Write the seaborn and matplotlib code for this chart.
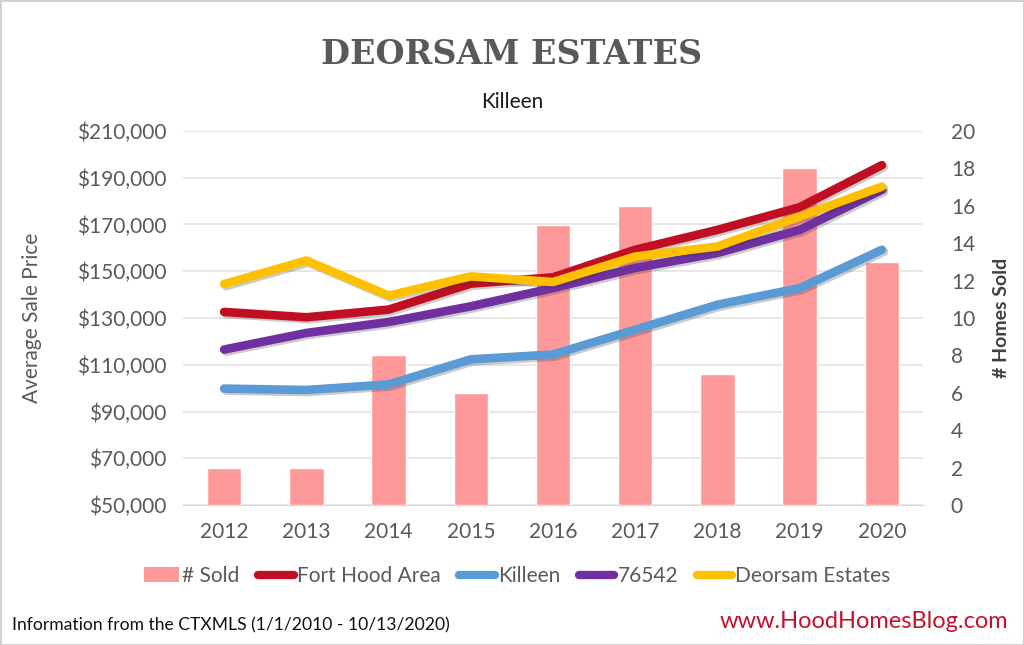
import numpy as np
import pandas as pd
import matplotlib
matplotlib.use("Agg")
import matplotlib.pyplot as plt
import matplotlib.patheffects as pe
from matplotlib.patches import Patch
from matplotlib.lines import Line2D
import seaborn as sns

# data
years = [2012, 2013, 2014, 2015, 2016, 2017, 2018, 2019, 2020]
homes_sold = [2, 2, 8, 6, 15, 16, 7, 18, 13]
fort_hood = [132600, 130300, 133600, 144700, 147400, 159200, 167700, 177400, 195400]
killeen = [99800, 99200, 101600, 112300, 114400, 125000, 135700, 142800, 159200]
zip_76542 = [116500, 123600, 128300, 135000, 142800, 151400, 157800, 167700, 184800]
deorsam = [144500, 154600, 139600, 147800, 145400, 156300, 160600, 173400, 186200]

series_names = ["Fort Hood Area", "Killeen", "76542", "Deorsam Estates"]
series_colors = ["#C00F22", "#5B9BD5", "#7030A0", "#FFC000"]
bar_color = "#FF9999"
gray = "#595959"

price_ticks = list(range(50000, 210001, 20000))
sold_ticks = list(range(0, 21, 2))

df_lines = pd.DataFrame({
    "year": years * 4,
    "price": fort_hood + killeen + zip_76542 + deorsam,
    "area": sum([[n] * len(years) for n in series_names], []),
})
df_bars = pd.DataFrame({"year": years, "sold": homes_sold})

sns.set_style("white")
plt.rcParams["font.family"] = ["Lato", "DejaVu Sans"]

fig = plt.figure(figsize=(10.24, 6.45), dpi=100)
fig.patch.set_edgecolor("#d0d0d0")
fig.patch.set_linewidth(2)

ax = fig.add_axes([183 / 1024, 1 - 505 / 645, 740 / 1024, 374 / 645])
ax2 = ax.twinx()
ax3 = ax.twinx()

# grid + left axis
ax.set_ylim(50000, 210000)
ax.set_yticks(price_ticks)
ax.set_yticklabels(["${:,}".format(v) for v in price_ticks])
ax.grid(axis="y", color="#e3e3e3", linewidth=1.2)
ax.grid(axis="x", visible=False)
ax.set_ylabel("Average Sale Price", fontsize=15, color=gray)
ax.yaxis.set_label_coords(-0.19, 0.5)

# bars on right axis
sns.barplot(data=df_bars, x="year", y="sold", ax=ax2, color=bar_color,
            saturation=1, width=0.42, native_scale=True, zorder=2)
ax2.set_ylim(0, 20)
ax2.set_yticks(sold_ticks)
ax2.set_ylabel("# Homes Sold", fontsize=14, color="#404040", fontweight="bold")
ax2.yaxis.set_label_coords(1.0946, 0.5)
ax2.set_xlabel("")

# lines
sns.lineplot(data=df_lines, x="year", y="price", hue="area", hue_order=series_names,
             palette=series_colors, ax=ax3, linewidth=6.2, legend=False,
             solid_capstyle="round", solid_joinstyle="round",
             path_effects=[pe.SimpleLineShadow(offset=(1.5, -1.5), alpha=0.25, shadow_color="#333333"),
                           pe.Normal()])
ax3.set_ylim(50000, 210000)
ax3.set_yticks([])
ax3.set_ylabel("")
ax3.set_xlabel("")

ax.set_xlim(2011.5, 2020.5)
ax.set_xticks(years)
ax.set_xticklabels([str(y) for y in years])
ax.set_xlabel("")

for a in (ax, ax2, ax3):
    for s in a.spines.values():
        s.set_visible(False)
    a.tick_params(length=0, labelsize=15, colors=gray)
ax.spines["bottom"].set_visible(True)
ax.spines["bottom"].set_color("#d9d9d9")
ax.tick_params(axis="y", pad=12)
ax.tick_params(axis="x", pad=12)
ax2.tick_params(axis="y", pad=20)
ax2.tick_params(axis="x", labelbottom=False)
ax3.tick_params(axis="x", labelbottom=False)

# legend
handles = [Patch(facecolor=bar_color, edgecolor="none")]
handles += [Line2D([0], [0], color=c, linewidth=6, solid_capstyle="round") for c in series_colors]
labels = ["# Sold"] + series_names
leg = fig.legend(handles, labels, loc="center", bbox_to_anchor=(0.505, 1 - 576 / 645),
                 ncol=5, frameon=False, fontsize=15, handlelength=1.7,
                 handletextpad=0.15, columnspacing=0.9, labelcolor=gray)

# titles
fig.text(0.5, 1 - 55 / 645, "DEORSAM ESTATES", ha="center", va="center",
         fontsize=24, fontweight="bold", color=gray, family="DejaVu Serif")
fig.text(0.5, 1 - 102 / 645, "Killeen", ha="center", va="center",
         fontsize=15, color="#1a1a1a")

# footer
fig.text(12 / 1024, 1 - 625 / 645, "Information from the CTXMLS (1/1/2010 - 10/13/2020)",
         ha="left", va="center", fontsize=12.6, color="#111111")
fig.text(1008 / 1024, 1 - 622 / 645, "www.HoodHomesBlog.com", ha="right", va="center",
         fontsize=17, color="#C8102E")

fig.savefig("out.png", dpi=100, facecolor="white", edgecolor=fig.get_edgecolor())
